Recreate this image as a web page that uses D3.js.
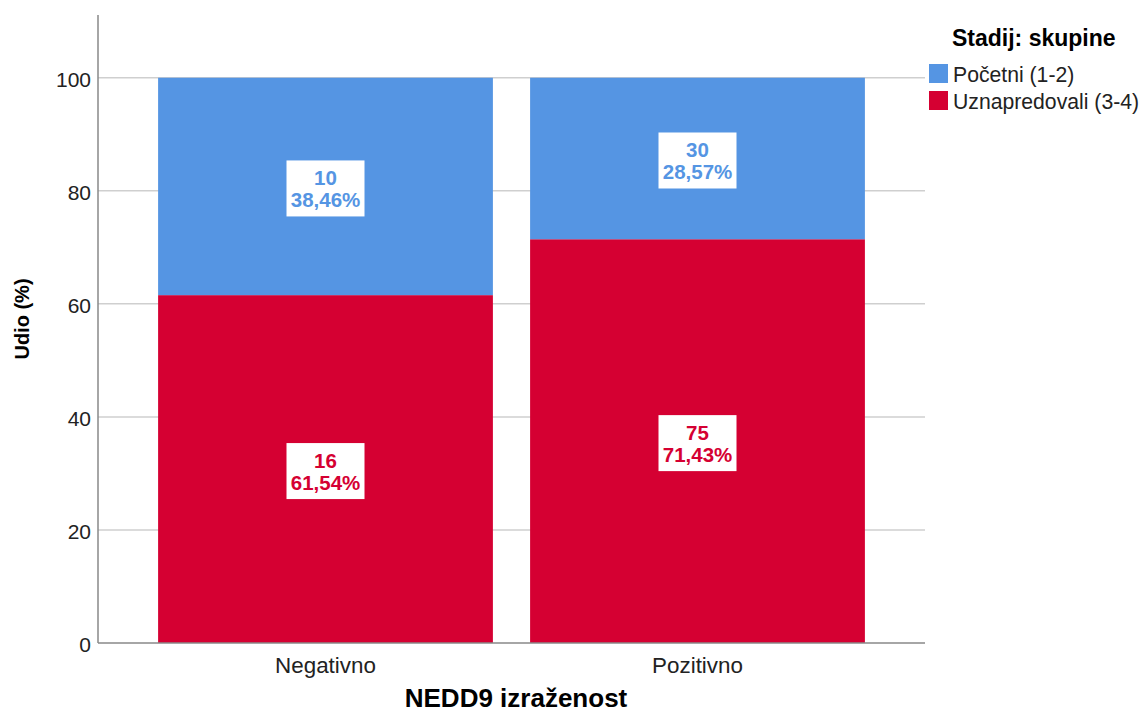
<!DOCTYPE html>
<html><head><meta charset="utf-8">
<script src="https://cdn.jsdelivr.net/npm/d3@7"></script>
<style>body{margin:0;background:#fff}svg{display:block;font-family:Arial,"Liberation Sans",sans-serif}</style>
</head><body><svg id="c" width="1143" height="713"></svg>
<script>
const categories = ["Negativno", "Pozitivno"];
const seriesNames = ["Početni (1-2)", "Uznapredovali (3-4)"];
// stacking order: bottom first
const stackOrder = [1, 0];
const counts = [[10, 30], [16, 75]];           // per series, per category
const percents = [[38.46, 28.57], [61.54, 71.43]];
const percentLabels = [["38,46%", "28,57%"], ["61,54%", "71,43%"]];
const colors = ["#5595E3", "#D50032"];
const yTicks = [0, 20, 40, 60, 80, 100];

const FONT = "Arial,'Liberation Sans',sans-serif";
const svg = d3.select("#c");
const x0 = 98, x1 = 925, yTop = 15, yBot = 643;
const y = d3.scaleLinear().domain([0, 111.1]).range([yBot, yTop]);
const x = d3.scaleBand().domain(categories).range([139.5, 883.5]).paddingInner(0.1).paddingOuter(0.05);

// grid
svg.append("g").selectAll("line").data(yTicks.filter(d => d > 0)).join("line")
  .attr("x1", x0).attr("x2", x1).attr("y1", d => y(d)).attr("y2", d => y(d))
  .attr("stroke", "#cfcfcf").attr("stroke-width", 1.5);

// stacked bars + label positions
const labels = [];
categories.forEach((c, ci) => {
  let base = 0;
  stackOrder.forEach(si => {
    const v = percents[si][ci];
    svg.append("rect").attr("x", x(c)).attr("width", x.bandwidth())
      .attr("y", y(base + v)).attr("height", y(base) - y(base + v))
      .attr("fill", colors[si]);
    labels.push({ si, ci, cx: x(c) + x.bandwidth() / 2, cy: (y(base) + y(base + v)) / 2 + 2 });
    base += v;
  });
});
labels.forEach(({ si, ci, cx, cy }) => {
  svg.append("rect").attr("x", cx - 39).attr("y", cy - 28).attr("width", 78).attr("height", 56)
    .attr("fill", "#fff");
  const t = svg.append("text").attr("text-anchor", "middle").attr("fill", colors[si])
    .attr("font-weight", "bold").attr("font-size", 20.5);
  t.append("tspan").attr("x", cx).attr("y", cy - 3).text(counts[si][ci]);
  t.append("tspan").attr("x", cx).attr("y", cy + 18.5).text(percentLabels[si][ci]);
});

// y axis
const ya = svg.append("g").attr("transform", `translate(${x0},0)`)
  .call(d3.axisLeft(y).tickValues(yTicks).tickSize(0).tickPadding(7));
ya.select(".domain").remove();
ya.selectAll("text").attr("font-size", 21).attr("fill", "#222").attr("font-family", FONT).attr("dy", "0.42em");
svg.append("line").attr("x1", x0).attr("x2", x0).attr("y1", yTop).attr("y2", yBot)
  .attr("stroke", "#888").attr("stroke-width", 1.5);

// x axis
const xa = svg.append("g").attr("transform", `translate(0,${yBot})`)
  .call(d3.axisBottom(x).tickSize(0).tickPadding(0));
xa.select(".domain").remove();
xa.selectAll("text").attr("font-size", 22.4).attr("fill", "#222").attr("font-family", FONT)
  .attr("dy", 0).attr("y", 30);
svg.append("line").attr("x1", x0).attr("x2", x1).attr("y1", yBot).attr("y2", yBot)
  .attr("stroke", "#888").attr("stroke-width", 1.5);

// titles
svg.append("text").attr("x", 516).attr("y", 707).attr("text-anchor", "middle")
  .attr("font-weight", "bold").attr("font-size", 26).text("NEDD9 izraženost");
svg.append("text").attr("transform", "translate(29,319) rotate(-90)").attr("text-anchor", "middle")
  .attr("font-weight", "bold").attr("font-size", 20).text("Udio (%)");

// legend
svg.append("text").attr("x", 952).attr("y", 46).attr("font-weight", "bold").attr("font-size", 23)
  .text("Stadij: skupine");
seriesNames.forEach((s, i) => {
  const ly = 64 + i * 27;
  svg.append("rect").attr("x", 929).attr("y", ly).attr("width", 19).attr("height", 19).attr("fill", colors[i]);
  svg.append("text").attr("x", 953).attr("y", ly + 18).attr("font-size", 21.2).attr("fill", "#222").text(s);
});
</script></body></html>
